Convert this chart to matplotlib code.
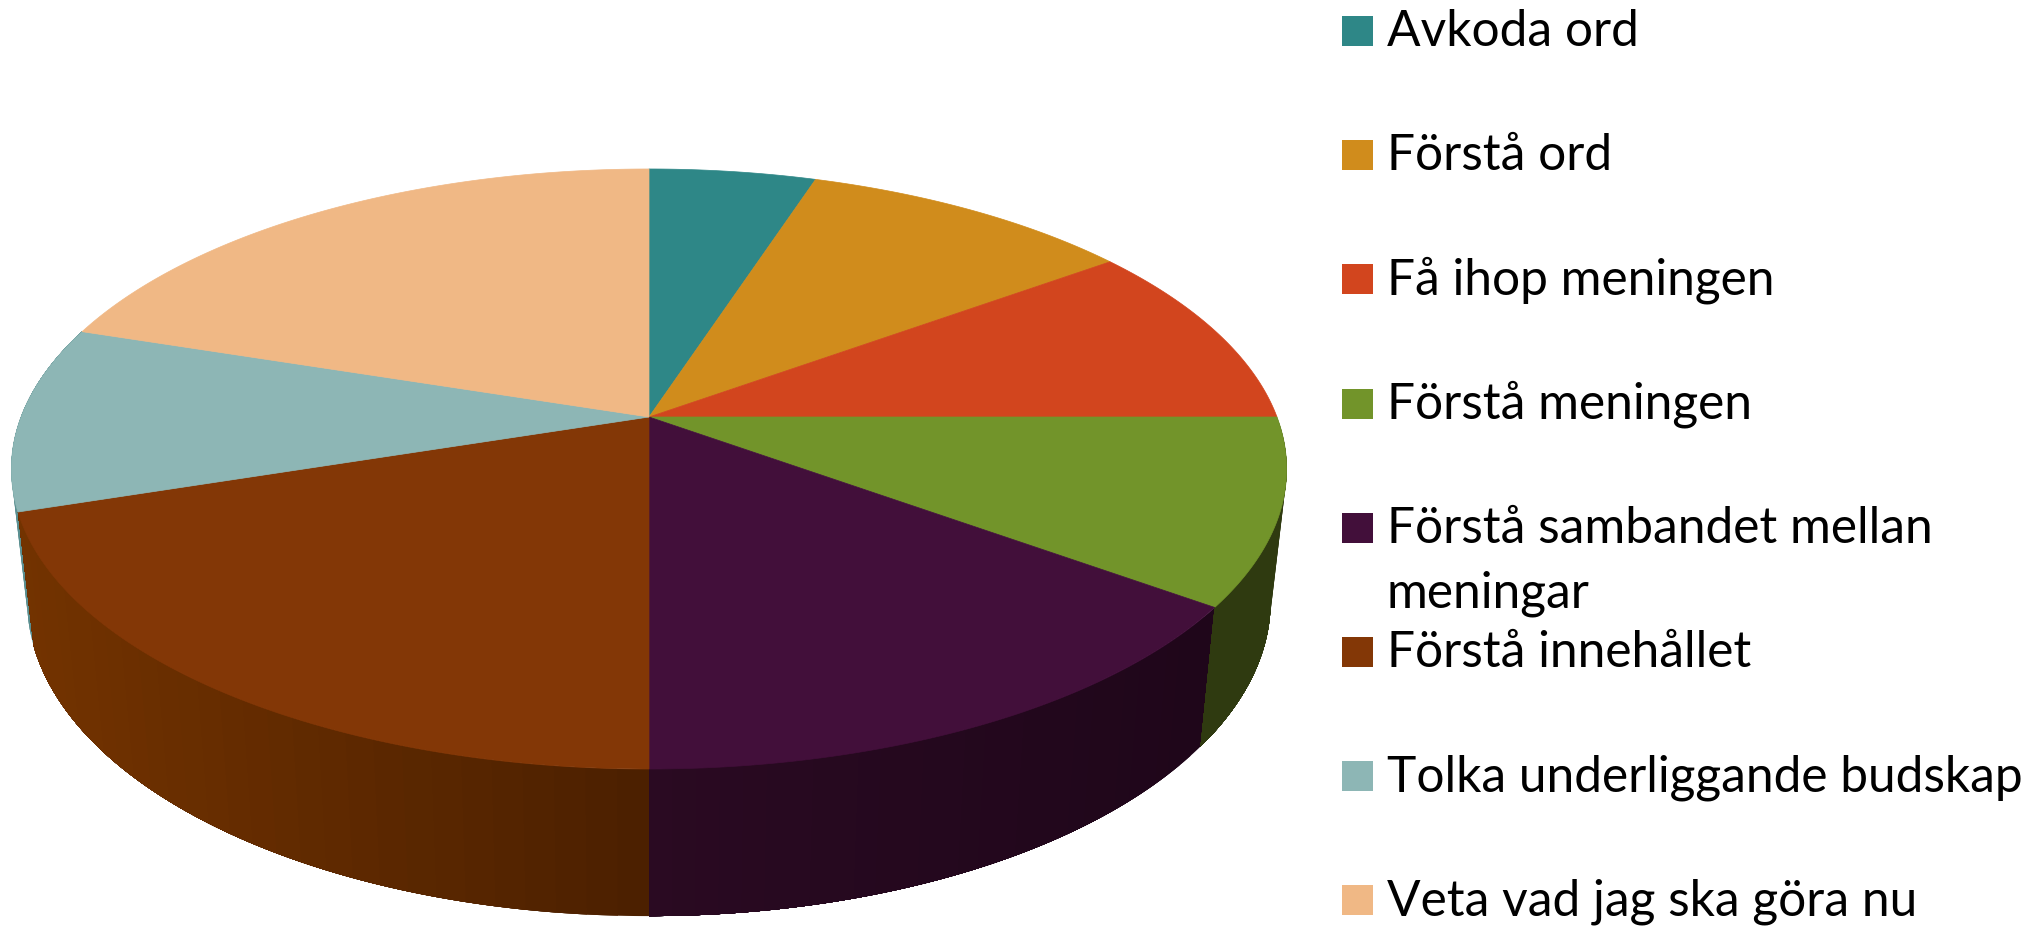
import numpy as np
import matplotlib
matplotlib.use("Agg")
import matplotlib.pyplot as plt
from matplotlib.colors import to_rgb
from matplotlib.patches import Rectangle

labels = ["Avkoda ord", "Förstå ord", "Få ihop meningen", "Förstå meningen",
          "Förstå sambandet mellan\nmeningar", "Förstå innehållet",
          "Tolka underliggande budskap", "Veta vad jag ska göra nu"]
values = [5, 10, 10, 10, 15, 20, 10, 20]
colors = ["#2e8787", "#d08c1c", "#d2451e", "#72942a",
          "#420f3a", "#833706", "#8db6b5", "#f0b885"]
# side wall colour at the start and the end of each slice, None = not visible
wall_from = [None, None, None, "#2f3a10", "#1f061a", "#4c2000", "#5a8f90", None]
wall_to = [None, None, None, "#2f3a10", "#2a0a22", "#733300", "#5a8f90", None]

# perspective of the disc, in pixels
cx, cy = 649, 417
rx, ry, persp = 628, 291, 0.1733
bottom_sx, bottom_sy, bottom_y = 0.975, 1.05, 546.5


def top_edge(theta):
    # theta runs clockwise from 12 o'clock
    d = 1 + persp * np.cos(theta)
    return rx * np.sin(theta) / d, ry * np.cos(theta) / d


def wall_points(theta):
    x, y = top_edge(theta)
    return cx + x, cy - y, cx + bottom_sx * x, bottom_y - bottom_sy * y


fig = plt.figure(figsize=(20.43, 9.27), dpi=100)
ax = fig.add_axes([0, 0, 1, 1])
ax.set_xlim(0, 2043)
ax.set_ylim(927, 0)
ax.axis("off")

bounds = 2 * np.pi * np.cumsum([0] + values) / sum(values)

# side walls first, the top covers whatever is behind it
# last slice first, the sliver at the far left has to end up behind the brown wall
for i in range(len(values) - 1, -1, -1):
    if wall_from[i] is None:
        continue
    c0 = np.array(to_rgb(wall_from[i]))
    c1 = np.array(to_rgb(wall_to[i]))
    steps = np.linspace(bounds[i], bounds[i + 1], 121)
    xt, yt, xb, yb = wall_points(steps)
    # each facet runs on to the end of the slice, the next one paints over it
    for j in range(0, len(steps) - 1, 4):
        f = abs(xt[j] - xt[0]) / max(abs(xt[-1] - xt[0]), 1)
        col = c0 + (c1 - c0) * f
        ax.fill(np.r_[xt[j:], xb[j:][::-1]], np.r_[yt[j:], yb[j:][::-1]], fc=col, ec="none")

for i in range(len(values)):
    steps = np.linspace(bounds[i], bounds[i + 1], 120)
    x, y = top_edge(steps)
    ax.fill(np.r_[cx, cx + x], np.r_[cy, cy - y], fc=colors[i], ec=colors[i], lw=0.5)

# legend, placed by hand since one entry wraps
for i in range(len(labels)):
    bottom = 46 + 124.2 * i
    ax.add_patch(Rectangle((1342, bottom - 30), 31, 30, fc=colors[i], ec="none"))
    lines = labels[i].split("\n")
    for n in range(len(lines)):
        ax.text(1387, bottom + 65 * n, lines[n], family="Lato", fontsize=35.7,
                color="black", va="baseline")

fig.savefig("out.png", dpi=100, facecolor="white")
